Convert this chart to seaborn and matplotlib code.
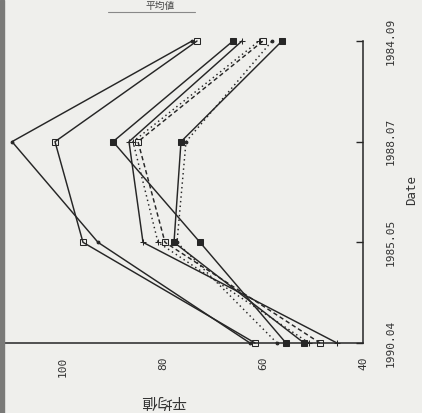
import pandas as pd
import numpy as np
import matplotlib.pyplot as plt
import seaborn as sns
from matplotlib.lines import Line2D
from matplotlib.patches import Rectangle

dates = ['1990.04', '1985.05', '1988.07', '1984.09']
series = ['A', 'B', 'C', 'D', 'E', 'F', 'G', 'H']
s_a = [62.6, 93.0, 110.2, 74.2]
s_b = [61.6, 96.0, 101.6, 73.2]
s_c = [55.4, 72.6, 90.0, 66.0]
s_d = [51.8, 77.8, 76.4, 56.2]
s_e = [57.2, 77.2, 75.4, 58.2]
s_f = [45.2, 84.0, 86.8, 64.2]
s_g = [48.6, 79.6, 85.0, 60.0]
s_h = [50.8, 81.0, 86.0, 60.8]
value_ticks = [40, 60, 80, 100]

rows = []
for name, vals in zip(series, [s_a, s_b, s_c, s_d, s_e, s_f, s_g, s_h]):
    for i, v in enumerate(vals):
        rows.append({'series': name, 'pos': i, 'value': v})
df = pd.DataFrame(rows)

paper = '#efefec'
ink = '#262626'

sns.set_style('white')
plt.rcParams['font.family'] = ['DejaVu Sans Mono', 'Noto Sans CJK JP']

fig = plt.figure(figsize=(4.22, 4.13), dpi=100, facecolor=paper)
ax = fig.add_axes([0.0, 70 / 413, 363 / 422, 302 / 413])
ax.set_facecolor('none')

markers = {'A': '.', 'B': 's', 'C': 's', 'D': 's', 'E': '.', 'F': 'P', 'G': 's', 'H': 'P'}
dashes = {'A': '', 'B': '', 'C': '', 'D': '', 'E': (1, 2.2), 'F': '', 'G': (3, 2), 'H': (1, 2.2)}
palette = {s: ink for s in series}

sns.lineplot(data=df, x='value', y='pos', hue='series', style='series', orient='y',
             markers=markers, dashes=dashes, palette=palette, estimator=None,
             linewidth=1.05, markersize=4, legend=False, ax=ax)

for ln, s in zip(ax.lines, series):
    ln.set_clip_on(False)
    if s in ('F', 'H'):
        ln.set_marker('+')
        ln.set_markersize(5)
    if s in ('B', 'G'):
        ln.set_markerfacecolor('none')
    ln.set_markeredgecolor(ink)

ax.set_xlim(112.6, 40)
ax.set_ylim(0, 3)

for side in ['top', 'left']:
    ax.spines[side].set_visible(False)
for side in ['bottom', 'right']:
    ax.spines[side].set_color(ink)
    ax.spines[side].set_linewidth(1.1)

ax.set_xticks(value_ticks)
ax.set_xticklabels([str(v) for v in value_ticks], rotation=90, fontsize=8, color='#333333')
ax.tick_params(axis='x', direction='in', length=5, width=1, color=ink, pad=10)

ax.yaxis.tick_right()
ax.set_yticks(range(len(dates)))
ax.set_yticklabels(dates, rotation=90, fontsize=8, color='#333333', va='center')
ax.tick_params(axis='y', direction='in', length=5, width=1, color=ink, pad=16)

ax.set_ylabel('Date', rotation=90, fontsize=9, color='#333333')
ax.yaxis.set_label_position('right')
ax.yaxis.set_label_coords(412 / 363, 0.507)
ax.yaxis.label.set_ha('center')
ax.yaxis.label.set_va('center')

ax.set_xlabel('平均値', rotation=180, fontsize=11, color='#333333',
              family=['Noto Sans CJK JP', 'DejaVu Sans'])
ax.xaxis.set_label_coords(163 / 363, -58 / 302)
ax.xaxis.label.set_ha('center')
ax.xaxis.label.set_va('center')

# small heading at the top edge, with its underline
fig.text(160 / 422, 1 - 1 / 413, '平均値', ha='center', va='top', fontsize=7,
         color='#444444', family=['Noto Sans CJK JP', 'DejaVu Sans'])
fig.add_artist(Line2D([108 / 422, 195 / 422], [1 - 12 / 413, 1 - 12 / 413],
                      color='#888888', linewidth=0.8))

# binding shadow at the left edge of the scan
fig.add_artist(Rectangle((0, 0), 4 / 422, 1, transform=fig.transFigure,
                         color='#7a7a78', zorder=5))

fig.savefig('out.png', dpi=100, facecolor=paper)
